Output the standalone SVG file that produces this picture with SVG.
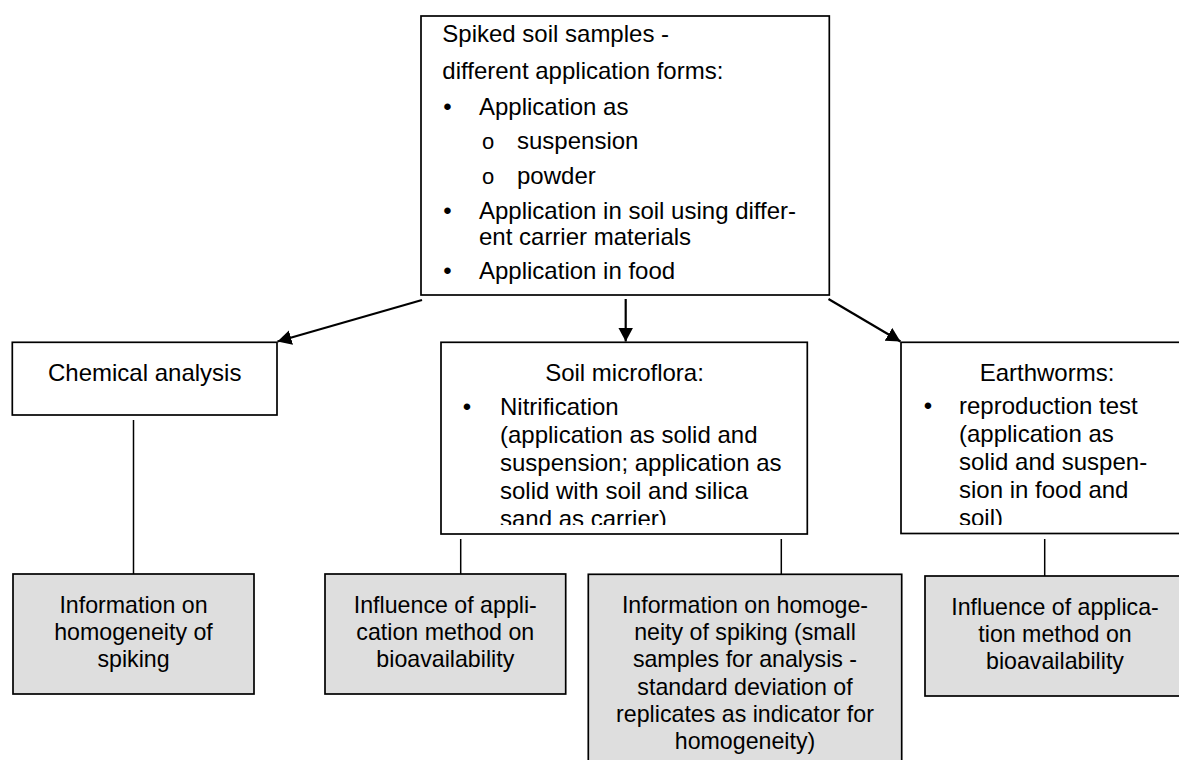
<svg xmlns="http://www.w3.org/2000/svg" width="1179" height="760" viewBox="0 0 1179 760">
<style>
  .box { fill: #ffffff; stroke: #000; stroke-width: 1.7; }
  .gbox { fill: #dedede; stroke: #000; stroke-width: 1.7; }
  .arrow { stroke: #000; stroke-width: 2.2; fill: none; }
  .link { stroke: #000; stroke-width: 1.5; fill: none; }
  text { font-family: "Liberation Sans", Arial, sans-serif; fill: #000; }
  .t { font-size: 24px; }
  .b { font-size: 23.2px; text-anchor: middle; }
  .c { text-anchor: middle; }
  .sub { font-size: 22px; }
</style>
<defs>
  <marker id="ah" markerUnits="userSpaceOnUse" markerWidth="16" markerHeight="16" refX="14" refY="7.5" orient="auto">
    <path d="M0,0 L14,7.5 L0,15 Z" fill="#000"/>
  </marker>
  <clipPath id="clipMid"><rect x="441" y="342" width="367" height="183"/></clipPath>
  <clipPath id="clipEw"><rect x="901" y="342" width="300" height="183"/></clipPath>
</defs>

<g id="connectors">
  <line class="arrow" x1="422" y1="300" x2="277.5" y2="341.5" marker-end="url(#ah)"/>
  <line class="arrow" x1="625.7" y1="299" x2="625.7" y2="341.5" marker-end="url(#ah)"/>
  <line class="arrow" x1="828.5" y1="299" x2="900.5" y2="341.5" marker-end="url(#ah)"/>
  <line class="link" x1="133.5" y1="420" x2="133.5" y2="574"/>
  <line class="link" x1="460.7" y1="539" x2="460.7" y2="574"/>
  <line class="link" x1="781.3" y1="539" x2="781.3" y2="574.3"/>
  <line class="link" x1="1044.7" y1="539" x2="1044.7" y2="576"/>
</g>

<g id="spiked">
  <rect class="box" x="421" y="16" width="408.3" height="279"/>
  <text class="t" x="442.3" y="41.5">Spiked soil samples -</text>
  <text class="t" x="442.3" y="78.5">different application forms:</text>
  <text class="t c" x="447.5" y="114.5">•</text>
  <text class="t" x="479" y="114.5">Application as</text>
  <text class="sub c" x="488" y="149">o</text>
  <text class="t" x="517" y="149">suspension</text>
  <text class="sub c" x="488" y="183.5">o</text>
  <text class="t" x="517" y="183.5">powder</text>
  <text class="t c" x="447.5" y="218.5">•</text>
  <text class="t" x="479" y="218.5">Application in soil using differ-</text>
  <text class="t" x="479" y="244.5">ent carrier materials</text>
  <text class="t c" x="447.5" y="279">•</text>
  <text class="t" x="479" y="279">Application in food</text>
</g>

<g id="chemical">
  <rect class="box" x="12.3" y="342.3" width="264.7" height="72.7"/>
  <text class="t c" x="144.7" y="381">Chemical analysis</text>
</g>

<g id="microflora">
  <rect class="box" x="441" y="342.3" width="366.3" height="191.7"/>
  <g clip-path="url(#clipMid)">
    <text class="t c" x="624.5" y="380.5">Soil microflora:</text>
    <text class="t c" x="467" y="415">•</text>
    <text class="t" x="500" y="415">Nitrification</text>
    <text class="t" x="500" y="443">(application as solid and</text>
    <text class="t" x="500" y="471">suspension; application as</text>
    <text class="t" x="500" y="499">solid with soil and silica</text>
    <text class="t" x="500" y="527">sand as carrier)</text>
  </g>
</g>

<g id="earthworms">
  <rect class="box" x="901" y="342.3" width="300" height="191.2"/>
  <g clip-path="url(#clipEw)">
    <text class="t c" x="1047" y="380.5">Earthworms:</text>
    <text class="t c" x="928" y="414">•</text>
    <text class="t" x="959" y="414">reproduction test</text>
    <text class="t" x="959" y="442">(application as</text>
    <text class="t" x="959" y="470">solid and suspen-</text>
    <text class="t" x="959" y="498">sion in food and</text>
    <text class="t" x="959" y="526">soil)</text>
  </g>
</g>

<g id="info-chem">
  <rect class="gbox" x="13" y="574" width="241" height="120"/>
  <text class="b" x="133.5" y="613">Information on</text>
  <text class="b" x="133.5" y="640">homogeneity of</text>
  <text class="b" x="133.5" y="667">spiking</text>
</g>

<g id="influence-micro">
  <rect class="gbox" x="325" y="574" width="240.7" height="120"/>
  <text class="b" x="445.3" y="613">Influence of appli-</text>
  <text class="b" x="445.3" y="640">cation method on</text>
  <text class="b" x="445.3" y="667">bioavailability</text>
</g>

<g id="info-micro">
  <rect class="gbox" x="588.3" y="574.3" width="313.4" height="230"/>
  <text class="b" x="745" y="613">Information on homoge-</text>
  <text class="b" x="745" y="640.2">neity of spiking (small</text>
  <text class="b" x="745" y="667.4">samples for analysis -</text>
  <text class="b" x="745" y="694.6">standard deviation of</text>
  <text class="b" x="745" y="721.8">replicates as indicator for</text>
  <text class="b" x="745" y="749">homogeneity)</text>
</g>

<g id="influence-ew">
  <rect class="gbox" x="925" y="576" width="260" height="120"/>
  <text class="b" x="1055" y="614.5">Influence of applica-</text>
  <text class="b" x="1055" y="641.5">tion method on</text>
  <text class="b" x="1055" y="668.5">bioavailability</text>
</g>
</svg>
